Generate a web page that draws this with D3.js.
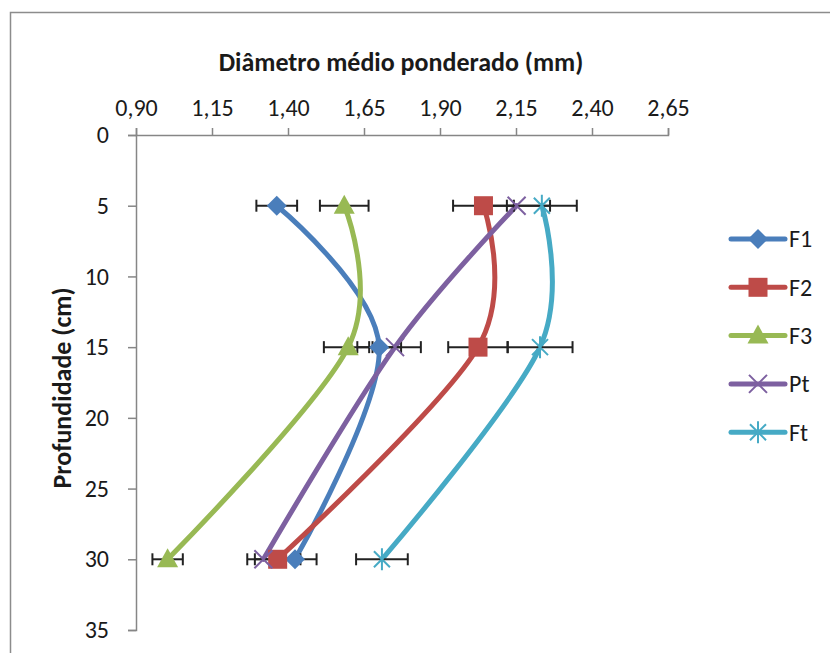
<!DOCTYPE html>
<html>
<head>
<meta charset="utf-8">
<script src="https://cdn.jsdelivr.net/npm/d3@7"></script>
<style>
    body { margin: 0; background: #fff; }
    text { font-family: Carlito, Calibri, Lato, sans-serif; fill: #1a1a1a; }
</style>
</head>
<body>
<div id="chart"></div>
<script>
// profundidades (cm) e séries de diâmetro médio ponderado (mm)
const depths = [5, 15, 30];
const seriesNames = ["F1", "F2", "F3", "Pt", "Ft"];
const f1 = [1.363, 1.700, 1.423];
const f2 = [2.043, 2.025, 1.366];
const f3 = [1.585, 1.598, 1.004];
const pt = [2.152, 1.752, 1.319];
const ft = [2.235, 2.229, 1.709];
// barras de erro (±)
const f1Err = [0.067, 0.072, 0.071];
const f2Err = [0.100, 0.098, 0.075];
const f3Err = [0.080, 0.080, 0.050];
const ptErr = [0.110, 0.085, 0.053];
const ftErr = [0.115, 0.107, 0.085];
const xTicks = [0.90, 1.15, 1.40, 1.65, 1.90, 2.15, 2.40, 2.65];
const yTicks = [0, 5, 10, 15, 20, 25, 30, 35];

const colors = ["#4a7ebb", "#be4b48", "#98b954", "#7d60a0", "#46aac5"];
const symbols = ["diamond", "square", "triangle", "x", "star"];
const values = [f1, f2, f3, pt, ft];
const errors = [f1Err, f2Err, f3Err, ptErr, ftErr];

const width = 830, height = 653;

const svg = d3.select("#chart").append("svg")
    .attr("width", width)
    .attr("height", height);

// borda da área do gráfico
svg.append("path")
    .attr("d", `M10.5,${height}V12.5H${width}`)
    .attr("fill", "none")
    .attr("stroke", "#8c8c8c")
    .attr("stroke-width", 1.5);

const x = d3.scaleLinear().domain([0.90, 2.65]).range([136, 668]);
const y = d3.scaleLinear().domain([0, 35]).range([135, 630]);

const xAxis = svg.append("g")
    .attr("transform", `translate(0,${y(0)})`)
    .call(d3.axisTop(x).tickValues(xTicks).tickSize(7).tickPadding(12)
        .tickFormat(d => d3.format(".2f")(d).replace(".", ",")));

const yAxis = svg.append("g")
    .attr("transform", `translate(${x(0.90)},0)`)
    .call(d3.axisLeft(y).tickValues(yTicks).tickSize(8).tickPadding(19));

[xAxis, yAxis].forEach(ax => {
    ax.select(".domain").attr("stroke", "#868686").attr("stroke-width", 1.5);
    ax.selectAll(".tick line").attr("stroke", "#868686").attr("stroke-width", 1.5);
    ax.selectAll(".tick text").attr("font-size", 24).attr("fill", "#1a1a1a")
        .style("font-family", "Carlito, Calibri, Lato, sans-serif");
});

svg.append("text")
    .attr("x", 401)
    .attr("y", 71)
    .attr("text-anchor", "middle")
    .attr("font-size", 26)
    .attr("font-weight", "bold")
    .text("Diâmetro médio ponderado (mm)");

svg.append("text")
    .attr("transform", "translate(71,388) rotate(-90)")
    .attr("text-anchor", "middle")
    .attr("font-size", 26)
    .attr("font-weight", "bold")
    .text("Profundidade (cm)");

const line = d3.line()
    .x(d => x(d.v))
    .y(d => y(d.d))
    .curve(d3.curveCardinal.tension(0));

function pointsOf(i) {
    return depths.map((d, j) => ({d: d, v: values[i][j], e: errors[i][j]}));
}

function drawMarker(g, type, color) {
    if (type === "diamond") {
        g.append("path").attr("d", "M0,-10L10,0L0,10L-10,0Z").attr("fill", color);
    } else if (type === "square") {
        g.append("rect").attr("x", -9.5).attr("y", -9.5).attr("width", 19).attr("height", 19)
            .attr("fill", color);
    } else if (type === "triangle") {
        g.append("path").attr("d", "M0,-11L10.5,8L-10.5,8Z").attr("fill", color);
    } else if (type === "x") {
        g.append("path").attr("d", "M-9,-9L9,9M-9,9L9,-9")
            .attr("stroke", color).attr("stroke-width", 2);
    } else {
        g.append("path").attr("d", "M-8,-8L8,8M-8,8L8,-8M0,-11V11")
            .attr("stroke", color).attr("stroke-width", 2);
    }
}

// linhas suavizadas
seriesNames.forEach((name, i) => {
    svg.append("path")
        .datum(pointsOf(i))
        .attr("d", line)
        .attr("fill", "none")
        .attr("stroke", colors[i])
        .attr("stroke-width", 5)
        .attr("stroke-linecap", "round");
});

// barras de erro
seriesNames.forEach((name, i) => {
    const eb = svg.append("g").attr("stroke", "#222").attr("stroke-width", 2);
    pointsOf(i).forEach(p => {
        const yy = y(p.d);
        eb.append("line").attr("x1", x(p.v - p.e)).attr("x2", x(p.v + p.e))
            .attr("y1", yy).attr("y2", yy);
        [p.v - p.e, p.v + p.e].forEach(v => {
            eb.append("line").attr("x1", x(v)).attr("x2", x(v))
                .attr("y1", yy - 6).attr("y2", yy + 6);
        });
    });
});

// marcadores
seriesNames.forEach((name, i) => {
    pointsOf(i).forEach(p => {
        const g = svg.append("g").attr("transform", `translate(${x(p.v)},${y(p.d)})`);
        drawMarker(g, symbols[i], colors[i]);
    });
});

// legenda
const legend = svg.append("g");
seriesNames.forEach((name, i) => {
    const ly = 239 + i * 48.3;
    legend.append("line")
        .attr("x1", 731).attr("x2", 785)
        .attr("y1", ly).attr("y2", ly)
        .attr("stroke", colors[i])
        .attr("stroke-width", 5)
        .attr("stroke-linecap", "round");
    const g = legend.append("g").attr("transform", `translate(758,${ly})`);
    drawMarker(g, symbols[i], colors[i]);
    legend.append("text")
        .attr("x", 789)
        .attr("y", ly)
        .attr("dy", "0.35em")
        .attr("font-size", 24)
        .text(name);
});
</script>
</body>
</html>
